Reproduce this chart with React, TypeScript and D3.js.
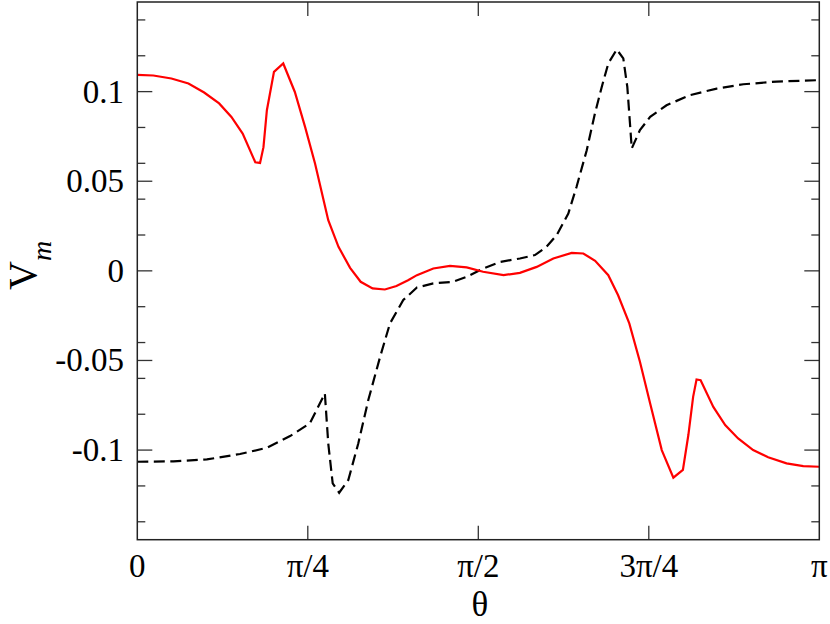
import React from "react";
import * as d3 from "d3";

// theta given as a fraction of pi
const redTheta = [
  0, 0.0235, 0.05, 0.075, 0.098, 0.12, 0.138, 0.1545, 0.173, 0.18,
  0.185, 0.19, 0.2004, 0.214, 0.231, 0.246, 0.2606, 0.28, 0.295, 0.312,
  0.3275, 0.345, 0.363, 0.38, 0.397, 0.41, 0.434, 0.4585, 0.483, 0.507,
  0.537, 0.561, 0.5856, 0.61, 0.637, 0.654, 0.6713, 0.6906, 0.705, 0.7214,
  0.737, 0.752, 0.769, 0.786, 0.8, 0.808, 0.815, 0.82, 0.826, 0.8446,
  0.862, 0.881, 0.903, 0.925, 0.952, 0.9765, 1.0,
];
const redV = [
  0.1093, 0.109, 0.1073, 0.1045, 0.0995, 0.0934, 0.0859, 0.0766, 0.0606, 0.0602,
  0.069, 0.0896, 0.111, 0.1157, 0.0998, 0.0803, 0.0599, 0.0283, 0.0134, 0.0017,
  -0.0061, -0.0098, -0.0104, -0.0085, -0.0052, -0.0024, 0.0013, 0.0028, 0.0019, -0.0005,
  -0.0024, -0.0011, 0.0022, 0.0069, 0.01, 0.0097, 0.0056, -0.0024, -0.0136, -0.0293,
  -0.0507, -0.074, -0.1, -0.1154, -0.111, -0.0916, -0.0703, -0.0606, -0.061, -0.0759,
  -0.086, -0.0935, -0.1, -0.104, -0.1074, -0.1089, -0.1093,
];

const blackTheta = [
  0, 0.053, 0.102, 0.1506, 0.19, 0.224, 0.253, 0.275, 0.28, 0.2865,
  0.296, 0.3094, 0.324, 0.3387, 0.356, 0.3705, 0.39, 0.41, 0.434, 0.463,
  0.483, 0.507, 0.532, 0.561, 0.583, 0.6, 0.615, 0.632, 0.644, 0.659,
  0.671, 0.681, 0.6906, 0.703, 0.7126, 0.7185, 0.7224, 0.725, 0.737, 0.752,
  0.776, 0.81, 0.8496, 0.8886, 0.9375, 1.0,
];
const blackV = [
  -0.1065, -0.1063, -0.1052, -0.1022, -0.0987, -0.0922, -0.0851, -0.0684, -0.0963, -0.1186,
  -0.1238, -0.1167, -0.0963, -0.0721, -0.048, -0.0293, -0.0163, -0.0093, -0.007, -0.0061,
  -0.0033, 0.0013, 0.005, 0.0069, 0.0088, 0.0134, 0.02, 0.032, 0.0468, 0.0673,
  0.0878, 0.1026, 0.1157, 0.1235, 0.1185, 0.1026, 0.0822, 0.0683, 0.0785, 0.0859,
  0.0924, 0.098, 0.1017, 0.1041, 0.1056, 0.1064,
];

const xTickValues = [0, Math.PI / 4, Math.PI / 2, (3 * Math.PI) / 4, Math.PI];
const xTickLabels = ["0", "π/4", "π/2", "3π/4", "π"];
const yTickValues = [-0.1, -0.05, 0, 0.05, 0.1];
const yTickLabels = ["-0.1", "-0.05", "0", "0.05", "0.1"];

const W = 830;
const H = 624;
const left = 137.3;
const right = 819.3;
const top = 2;
const bottom = 539.7;
const font = "'Liberation Serif', 'Times New Roman', serif";

export default function App() {
  const x = d3.scaleLinear().domain([0, Math.PI]).range([left, right]);
  const y = d3.scaleLinear().domain([-0.15, 0.15]).range([bottom, top]);

  const line = d3
    .line<[number, number]>()
    .x((d) => x(d[0]))
    .y((d) => y(d[1]));

  const red = redTheta.map((t, i) => [t * Math.PI, redV[i]] as [number, number]);
  const black = blackTheta.map((t, i) => [t * Math.PI, blackV[i]] as [number, number]);

  // minor ticks every 0.025, skip the majors
  const minor = y
    .ticks(12)
    .filter((v) => Math.abs(Math.round(v / 0.05) * 0.05 - v) > 1e-6);

  const tickColor = "#333";

  return (
    <svg
      width={W}
      height={H}
      style={{ position: "absolute", left: 0, top: 0, background: "#fff" }}
      fontFamily={font}
    >
      <path d={line(black) || ""} fill="none" stroke="#000" strokeWidth={2.2} strokeDasharray="11,5.5" />
      <path d={line(red) || ""} fill="none" stroke="#ff0000" strokeWidth={2.2} />

      {/* ticks */}
      {xTickValues.slice(1, -1).map((v, i) => (
        <g key={"xt" + i} stroke={tickColor} strokeWidth={1.3}>
          <line x1={x(v)} x2={x(v)} y1={bottom} y2={bottom - 14} />
          <line x1={x(v)} x2={x(v)} y1={top} y2={top + 14} />
        </g>
      ))}
      {yTickValues.map((v, i) => (
        <g key={"yt" + i} stroke={tickColor} strokeWidth={1.3}>
          <line x1={left} x2={left + 15} y1={y(v)} y2={y(v)} />
          <line x1={right} x2={right - 15} y1={y(v)} y2={y(v)} />
        </g>
      ))}
      {minor.map((v, i) => (
        <g key={"ym" + i} stroke={tickColor} strokeWidth={1.3}>
          <line x1={left} x2={left + 8} y1={y(v)} y2={y(v)} />
          <line x1={right} x2={right - 8} y1={y(v)} y2={y(v)} />
        </g>
      ))}

      <rect
        x={left}
        y={top}
        width={right - left}
        height={bottom - top}
        fill="none"
        stroke="#222"
        strokeWidth={1.5}
      />

      {/* tick labels */}
      {xTickValues.map((v, i) => (
        <text key={"xl" + i} x={x(v)} y={577} fontSize={33} textAnchor="middle" fill="#000">
          {xTickLabels[i]}
        </text>
      ))}
      {yTickValues.map((v, i) => (
        <text key={"yl" + i} x={124} y={y(v) + 11} fontSize={33} textAnchor="end" fill="#000">
          {yTickLabels[i]}
        </text>
      ))}

      {/* axis titles */}
      <text x={480} y={616} fontSize={35} textAnchor="middle" fill="#000">
        θ
      </text>
      <text transform="translate(36,290) rotate(-90)" fontSize={40} fill="#000">
        V
        <tspan fontSize={28} fontStyle="italic" dy={15}>
          m
        </tspan>
      </text>
    </svg>
  );
}
